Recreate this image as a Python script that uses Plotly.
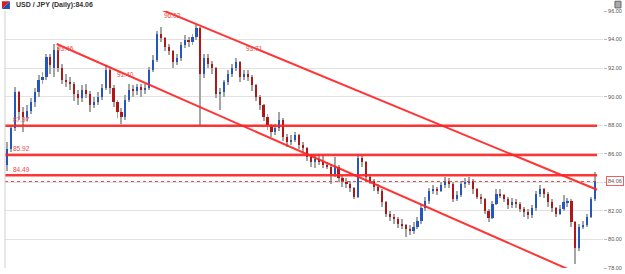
import plotly.graph_objects as go

# ---------------- data ----------------
opens = [85.2, 86.3, 87.8, 90.3, 88.9, 88.6, 89.0, 89.6, 90.3, 91.2,
         91.4, 92.8, 92.0, 93.3, 92.0, 91.2, 91.0, 90.9, 90.2, 89.9,
         90.5, 90.2, 89.4, 89.6, 90.0, 90.6, 91.9, 90.6, 89.6, 88.9,
         88.6, 89.8, 90.5, 90.4, 90.7, 90.5, 90.6, 91.9, 92.6, 94.4,
         94.1, 93.5, 93.2, 92.4, 92.7, 93.6, 94.0, 93.8, 94.2, 94.8,
         91.6, 92.7, 92.3, 92.0, 90.2, 90.3, 91.0, 91.6, 92.0, 92.4,
         91.4, 91.6, 91.4, 90.8, 90.0, 89.4, 88.6, 88.0, 87.5, 87.8,
         88.4, 87.2, 86.8, 87.0, 87.3, 86.6, 86.4, 85.8, 85.4, 85.6,
         85.4, 85.2, 85.1, 84.6, 85.1, 84.3, 84.0, 83.9, 83.6, 83.0,
         85.7, 85.4, 84.4, 84.1, 83.7, 83.4, 82.6, 81.8, 81.6, 81.4,
         81.1, 81.0, 80.7, 80.6, 80.9, 81.3, 82.2, 82.7, 83.4, 83.5,
         83.4, 83.8, 84.1, 83.9, 82.8, 83.1, 83.9, 84.0, 84.1, 83.5,
         83.0, 82.8, 82.0, 81.5, 82.5, 83.2, 83.1, 82.8, 82.4, 82.6,
         82.5, 82.1, 81.9, 81.7, 82.2, 83.2, 83.5, 83.2, 82.6, 82.2,
         81.8, 82.1, 82.6, 82.7, 81.2, 79.4, 80.9, 81.0, 81.6, 82.8]
highs = [86.8, 88.0, 90.7, 90.4, 89.3, 89.4, 89.9, 90.6, 91.5, 91.7,
         93.0, 93.0, 93.7, 93.5, 92.3, 91.6, 91.4, 91.0, 90.5, 90.8,
         90.9, 90.4, 90.0, 90.3, 90.9, 92.2, 92.0, 90.8, 89.8, 89.2,
         90.1, 90.9, 90.8, 90.9, 90.9, 90.9, 92.1, 92.9, 94.6, 94.9,
         94.2, 93.7, 93.3, 93.0, 93.8, 94.3, 94.2, 94.4, 95.0, 94.9,
         93.0, 93.0, 92.5, 92.1, 90.6, 91.2, 91.9, 92.3, 92.7, 92.5,
         91.9, 91.9, 91.5, 90.9, 90.1, 89.5, 88.8, 88.1, 88.1, 88.9,
         88.5, 87.4, 87.3, 87.5, 87.4, 86.8, 86.5, 86.0, 85.9, 86.0,
         85.9, 85.4, 85.2, 85.8, 85.2, 84.5, 84.3, 84.1, 83.7, 86.0,
         85.9, 85.5, 84.6, 84.2, 83.9, 83.5, 82.7, 82.0, 81.8, 81.6,
         81.4, 81.1, 81.0, 81.2, 81.6, 82.5, 83.0, 83.6, 83.8, 83.7,
         84.0, 84.4, 84.3, 84.0, 83.4, 84.1, 84.3, 84.4, 84.2, 83.6,
         83.2, 82.9, 82.1, 82.7, 83.5, 83.5, 83.2, 83.0, 82.9, 82.8,
         82.6, 82.3, 82.1, 82.4, 83.4, 83.8, 83.6, 83.3, 82.8, 82.3,
         82.4, 83.1, 82.9, 82.8, 81.3, 81.1, 81.3, 81.8, 83.0, 84.7]
lows = [84.8, 86.1, 87.6, 88.4, 87.5, 88.3, 88.8, 89.3, 90.0, 90.9,
        91.2, 91.6, 91.4, 91.7, 90.9, 90.7, 90.5, 89.7, 89.4, 89.6,
        89.9, 88.9, 89.2, 89.4, 89.8, 90.5, 90.2, 89.3, 88.5, 88.1,
        88.4, 89.6, 90.0, 90.1, 90.0, 90.2, 90.5, 91.7, 92.4, 93.8,
        93.2, 92.9, 92.0, 92.2, 92.5, 93.4, 93.5, 93.6, 94.0, 88.0,
        91.3, 92.0, 91.6, 89.9, 89.1, 90.0, 90.8, 91.4, 91.8, 91.0,
        91.2, 91.1, 90.4, 89.7, 89.1, 88.3, 87.7, 87.2, 87.3, 87.6,
        86.9, 86.5, 86.6, 86.8, 86.3, 86.1, 85.5, 85.1, 85.0, 85.2,
        85.0, 84.9, 83.9, 84.4, 84.0, 83.7, 83.6, 83.3, 82.8, 82.9,
        85.1, 84.1, 83.9, 83.4, 83.2, 82.3, 81.6, 81.3, 81.1, 80.8,
        80.7, 80.2, 80.3, 80.4, 80.7, 81.1, 82.0, 82.5, 83.2, 83.1,
        83.3, 83.6, 83.6, 82.6, 82.7, 83.0, 83.6, 83.8, 83.2, 82.8,
        82.5, 81.8, 81.2, 81.4, 82.4, 82.9, 82.6, 82.1, 82.2, 82.2,
        81.9, 81.6, 81.4, 81.5, 82.0, 83.0, 82.9, 82.3, 81.9, 81.6,
        81.7, 82.0, 82.3, 80.9, 78.3, 79.2, 80.7, 80.9, 81.5, 82.7]
closes = [86.3, 87.8, 90.3, 88.9, 88.6, 89.0, 89.6, 90.3, 91.2, 91.4,
          92.8, 92.2, 93.3, 92.0, 91.2, 91.0, 90.9, 90.2, 89.9, 90.5,
          90.2, 89.4, 89.6, 90.0, 90.6, 91.9, 90.6, 89.6, 88.9, 88.6,
          89.8, 90.5, 90.4, 90.7, 90.5, 90.6, 91.9, 92.6, 94.4, 94.1,
          93.5, 93.2, 92.4, 92.7, 93.6, 94.0, 93.8, 94.2, 94.8, 91.6,
          92.7, 92.3, 92.0, 90.2, 90.3, 91.0, 91.6, 92.0, 92.4, 91.4,
          91.6, 91.4, 90.8, 90.0, 89.4, 88.6, 88.0, 87.5, 87.8, 88.4,
          87.2, 86.8, 87.0, 87.3, 86.6, 86.4, 85.8, 85.4, 85.6, 85.4,
          85.2, 85.1, 84.6, 85.1, 84.3, 84.0, 83.9, 83.6, 83.0, 85.7,
          85.4, 84.4, 84.1, 83.7, 83.4, 82.6, 81.8, 81.6, 81.4, 81.1,
          81.0, 80.7, 80.6, 80.9, 81.3, 82.2, 82.7, 83.4, 83.5, 83.4,
          83.8, 84.1, 83.9, 82.8, 83.1, 83.9, 84.0, 84.1, 83.5, 83.0,
          82.8, 82.0, 81.5, 82.5, 83.2, 83.1, 82.8, 82.4, 82.6, 82.5,
          82.1, 81.9, 81.7, 82.2, 83.2, 83.5, 83.2, 82.6, 82.2, 81.8,
          82.1, 82.6, 82.7, 81.2, 79.4, 80.9, 81.0, 81.6, 82.8, 84.06]

levels = [87.97, 85.92, 84.49]
last_price = 84.06
upper_trend_x = [39.5, 149.5]
upper_trend_y = [96.05, 83.48]
lower_trend_x = [12.6, 149.5]
lower_trend_y = [93.69, 77.02]
trend_label_text = ["93.46", "91.40", "96.02", "93.71"]
trend_label_x = [12.1, 27.3, 39.4, 60.1]
trend_label_y = [93.37, 91.58, 95.70, 93.36]
ytick_vals = [78, 80, 82, 84, 86, 88, 90, 92, 94, 96]
title_text = "USD / JPY (Daily):84.06"

# ---------------- figure ----------------
N = len(closes)
idx = list(range(N))
up = [i for i in idx if closes[i] >= opens[i]]
dn = [i for i in idx if closes[i] < opens[i]]

RED = "rgba(255,35,35,0.92)"
fig = go.Figure()

# wicks
fig.add_trace(go.Bar(x=idx, y=[h - l for h, l in zip(highs, lows)], base=lows,
                     width=0.25, marker=dict(color="#a5a5a5", line_width=0),
                     hoverinfo="skip"))
# bodies
fig.add_trace(go.Bar(x=up, y=[max(closes[i] - opens[i], 0.06) for i in up],
                     base=[opens[i] for i in up], width=0.55,
                     marker=dict(color="#2456c0", line_width=0)))
fig.add_trace(go.Bar(x=dn, y=[max(opens[i] - closes[i], 0.06) for i in dn],
                     base=[closes[i] for i in dn], width=0.55,
                     marker=dict(color="#b01818", line_width=0)))

# horizontal levels
for lv in levels:
    fig.add_trace(go.Scatter(x=[-0.5, N - 0.5], y=[lv, lv], mode="lines",
                             line=dict(color=RED, width=2.5), hoverinfo="skip"))
# last price dotted line
fig.add_trace(go.Scatter(x=[-0.5, N - 0.5], y=[last_price, last_price], mode="lines",
                         line=dict(color="rgba(220,60,60,0.9)", width=1, dash="dot"),
                         hoverinfo="skip"))
# trend lines
fig.add_trace(go.Scatter(x=upper_trend_x, y=upper_trend_y, mode="lines",
                         line=dict(color=RED, width=2), hoverinfo="skip"))
fig.add_trace(go.Scatter(x=lower_trend_x, y=lower_trend_y, mode="lines",
                         line=dict(color=RED, width=2), hoverinfo="skip"))

annotations = []
lab_font = dict(family="Liberation Sans, Arial", size=6.5, color="#e84848")
for lv in levels:
    annotations.append(dict(x=1.0, y=lv, xref="x", yref="y", text=f"{lv:.2f}",
                            showarrow=False, xanchor="left", yanchor="middle",
                            yshift=6, font=lab_font))
for t, x, y in zip(trend_label_text, trend_label_x, trend_label_y):
    annotations.append(dict(x=x, y=y, xref="x", yref="y", text=t, showarrow=False,
                            xanchor="left", yanchor="middle", font=lab_font))
# last price box on axis
annotations.append(dict(x=1, y=last_price, xref="paper", yref="y", text=f"{last_price:.2f}",
                        showarrow=False, xanchor="left", yanchor="middle", xshift=3,
                        bordercolor="#f06060", borderwidth=1, borderpad=1, bgcolor="white",
                        font=dict(family="Liberation Sans, Arial", size=5.5, color="#555")))
# title
annotations.append(dict(x=0.015, y=1.023, xref="paper", yref="paper",
                        text=f"<b>{title_text}</b>", showarrow=False,
                        xanchor="left", yanchor="middle",
                        font=dict(family="Liberation Sans, Arial", size=7, color="#333")))

shapes = [
    dict(type="line", xref="paper", yref="paper", x0=0, x1=0, y0=0, y1=1,
         line=dict(color="#cfcfcf", width=1)),
    dict(type="path", xref="paper", yref="paper",
         path="M -0.005,1.038 L 0.0083,1.038 L -0.005,1.0077 Z",
         fillcolor="#d42020", line=dict(width=0)),
    dict(type="path", xref="paper", yref="paper",
         path="M 0.0083,1.038 L 0.0083,1.0077 L -0.005,1.0077 Z",
         fillcolor="#2050b8", line=dict(width=0)),
    dict(type="rect", xref="paper", yref="paper", x0=1.02, x1=1.03, y0=1.012, y1=1.038,
         fillcolor="#aaa", line=dict(color="#666", width=1)),
]

fig.update_layout(
    width=625, height=274,
    margin=dict(l=5, r=20, t=11, b=3),
    paper_bgcolor="white", plot_bgcolor="white",
    showlegend=False, barmode="overlay", bargap=0,
    annotations=annotations, shapes=shapes,
    xaxis=dict(range=[-0.5, N + 1], showgrid=False, showticklabels=False,
               zeroline=False, showline=False, fixedrange=True),
    yaxis=dict(range=[78, 96], side="right", tickvals=ytick_vals, tickformat=".2f",
               showgrid=True, gridcolor="#e2e2e2", gridwidth=1, zeroline=False,
               ticks="outside", ticklen=3, tickcolor="#bbb",
               tickfont=dict(family="Liberation Sans, Arial", size=5.5, color="#555"),
               showline=False, fixedrange=True),
)

fig.write_html("out.html")
